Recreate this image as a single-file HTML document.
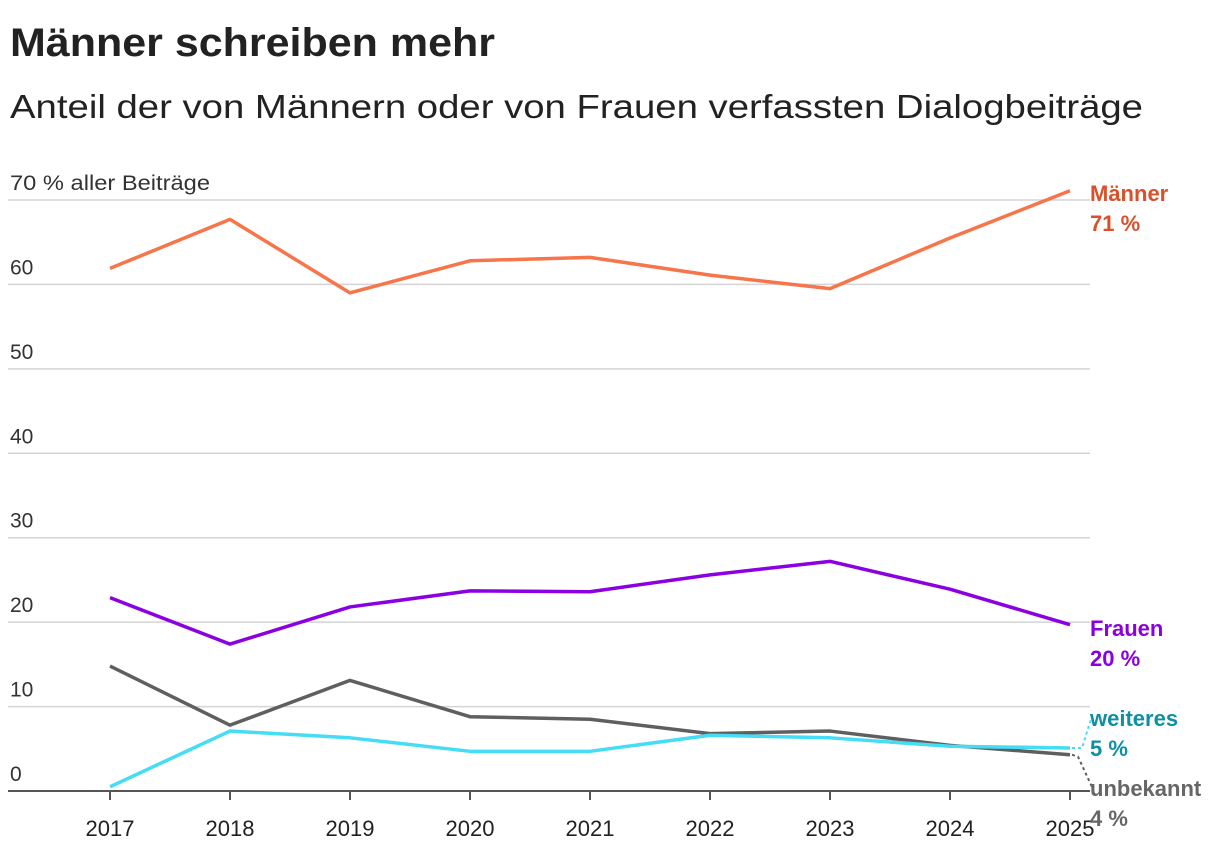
<!DOCTYPE html>
<html><head><meta charset="utf-8"><style>
body{margin:0;background:#fff;width:1220px;height:852px;overflow:hidden;font-family:"Liberation Sans",sans-serif;}
</style></head><body>
<svg id="chart" width="1220" height="852">
<text x="10" y="56" font-size="40" font-weight="bold" fill="#222" textLength="485" lengthAdjust="spacingAndGlyphs">Männer schreiben mehr</text>
<text x="10" y="118" font-size="33" fill="#222" textLength="1133" lengthAdjust="spacingAndGlyphs">Anteil der von Männern oder von Frauen verfassten Dialogbeiträge</text>
<g id="grid"></g><g id="lines"></g><g id="labels"></g>
</svg>
<script>
const years=[2017,2018,2019,2020,2021,2022,2023,2024,2025];
const maenner=[61.9,67.7,59.0,62.8,63.2,61.1,59.5,65.5,71.1];
const frauen=[22.9,17.4,21.8,23.7,23.6,25.6,27.2,23.9,19.7];
const unbekannt=[14.8,7.8,13.1,8.8,8.5,6.8,7.1,5.4,4.3];
const weiteres=[0.5,7.1,6.3,4.7,4.7,6.6,6.3,5.3,5.1];
const yTicks=[0,10,20,30,40,50,60,70];
const NS='http://www.w3.org/2000/svg';
const x=i=>110+i*120;
const y=v=>791-v*8.443;
function mk(tag,attrs,parent,text){const e=document.createElementNS(NS,tag);for(const k in attrs)e.setAttribute(k,attrs[k]);if(text!==undefined)e.textContent=text;parent.appendChild(e);return e;}
const grid=document.getElementById('grid'),lines=document.getElementById('lines'),labels=document.getElementById('labels');
yTicks.forEach(t=>{
 if(t>0){const l=mk('line',{x1:8,x2:1090,y1:y(t),y2:y(t),stroke:'#d4d4d4','stroke-width':1.5},grid);
 
 }
 const at={x:10,y:y(t)-10,'font-size':21,fill:'#333'};
 if(t===70){at.textLength=200;at.lengthAdjust='spacingAndGlyphs';}
 const tx=mk('text',at,grid,t===70?'70 % aller Beiträge':String(t));
 
 
});
const ax=mk('line',{x1:8,x2:1090,y1:791,y2:791,stroke:'#555','stroke-width':2},grid);


years.forEach((yr,i)=>{
 const tk=mk('line',{x1:x(i),x2:x(i),y1:791,y2:800,stroke:'#555','stroke-width':2},grid);
 
 
 const t=mk('text',{x:x(i),y:836,'font-size':22,fill:'#222','text-anchor':'middle'},grid,String(yr));
 
 
});
const series=[[maenner,'#f7754a','maenner-line'],[frauen,'#8b00e0','frauen-line'],[unbekannt,'#5f5f5f','unbekannt-line'],[weiteres,'#45dcf5','weiteres-line']];
series.forEach(([d,c,n])=>{
 const p=mk('polyline',{points:d.map((v,i)=>x(i)+','+y(v)).join(' '),fill:'none',stroke:c,'stroke-width':3.5,'stroke-linejoin':'round'},lines);
 
 
});
const L=years.length-1;
const d1=mk('polyline',{points:`${x(L)+2},${y(weiteres[L])} ${x(L)+12},${y(weiteres[L])} ${x(L)+22},716`,fill:'none',stroke:'#45dcf5','stroke-width':2,'stroke-dasharray':'3,3'},labels);


const d2=mk('polyline',{points:`${x(L)+2},${y(unbekannt[L])} ${x(L)+8},${y(unbekannt[L])+2} ${x(L)+22},787`,fill:'none',stroke:'#5f5f5f','stroke-width':2,'stroke-dasharray':'3,3'},labels);


const lab=[['Männer','71 %',201,'#d9502a','maenner-label'],['Frauen','20 %',636,'#8b00e0','frauen-label'],['weiteres','5 %',726,'#0e8fa3','weiteres-label'],['unbekannt','4 %',796,'#666','unbekannt-label']];
lab.forEach(([a,b,yy,c,n])=>{
 const t=mk('text',{x:1090,y:yy,'font-size':22,'font-weight':'bold',fill:c},labels);
 
 
 mk('tspan',{x:1090,dy:0},t,a);mk('tspan',{x:1090,dy:30},t,b);
});
</script>
</body></html>
